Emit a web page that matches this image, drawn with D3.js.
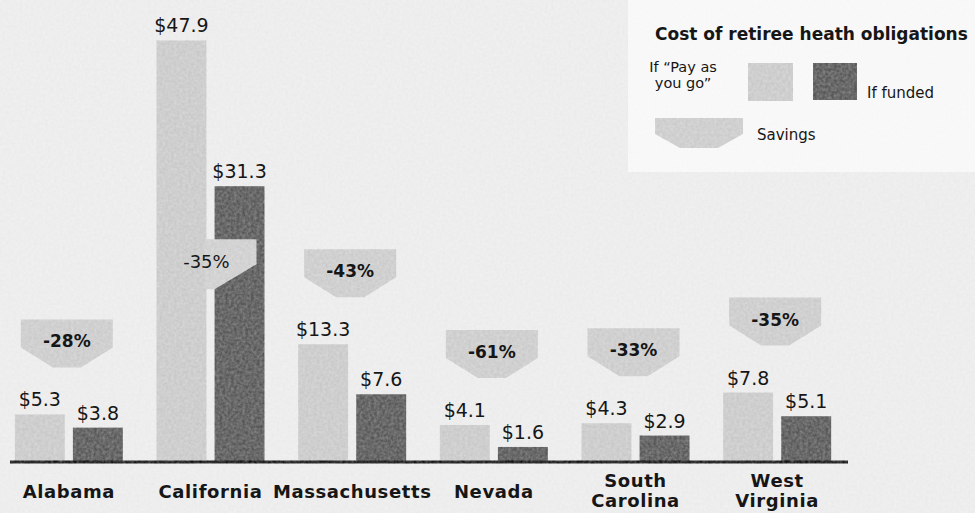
<!DOCTYPE html>
<html>
<head>
<meta charset="utf-8">
<script src="https://cdn.jsdelivr.net/npm/d3@7"></script>
<style>
  body { margin: 0; background: #ececec; }
  svg { display: block; }
  text { font-family: "DejaVu Sans", sans-serif; fill: #161616; }
</style>
</head>
<body>
<div id="chart"></div>
<script>
const width = 975;
const height = 513;

const states = ["Alabama", "California", "Massachusetts", "Nevada", "South Carolina", "West Virginia"];
const stateLines = [["Alabama"], ["California"], ["Massachusetts"], ["Nevada"], ["South", "Carolina"], ["West", "Virginia"]];
const payAsYouGo = [5.3, 47.9, 13.3, 4.1, 4.3, 7.8];
const funded = [3.8, 31.3, 7.6, 1.6, 2.9, 5.1];
const savings = ["-28%", "-35%", "-43%", "-61%", "-33%", "-35%"];
const savingsInBar = ["California"];

const colors = { payg: "#c8c8c8", funded: "#555555", savings: "#cacaca" };

const svg = d3.select("#chart").append("svg")
  .attr("width", width)
  .attr("height", height);

// paper grain
const grain = svg.append("defs").append("filter").attr("id", "grain")
  .attr("x", 0).attr("y", 0).attr("width", 1).attr("height", 1);
grain.append("feTurbulence")
  .attr("type", "fractalNoise")
  .attr("baseFrequency", 0.35)
  .attr("numOctaves", 2)
  .attr("seed", 4);
grain.append("feColorMatrix")
  .attr("type", "matrix")
  .attr("values", "0 0 0 0 1  0 0 0 0 1  0 0 0 0 1  0 0 0 -1.4 1.1");

svg.append("rect")
  .attr("width", width).attr("height", height)
  .attr("fill", "#ebebeb");

const x = d3.scaleBand()
  .domain(states)
  .range([-2, 848]);

const y = d3.scaleLinear()
  .domain([0, 50])
  .range([461, 22]);

const rows = states.map((s, i) => ({
  state: s,
  lines: stateLines[i],
  payg: payAsYouGo[i],
  funded: funded[i],
  savings: savings[i],
  inBar: savingsInBar.includes(s)
}));

const groupW = 108;
const inner = d3.scaleBand()
  .domain(["payg", "funded"])
  .range([0, groupW])
  .paddingInner(0.14);

const lightR = inner("payg") + inner.bandwidth();
const darkL = inner("funded");
const darkR = inner("funded") + inner.bandwidth();
const shift = d => `translate(${x(d.state) + x.bandwidth() / 2 - groupW / 2},0)`;

// ---- marks layer
const marks = svg.append("g");

const group = marks.selectAll("g.state")
  .data(rows)
  .enter().append("g")
  .attr("class", "state")
  .attr("transform", shift);

group.append("rect")
  .attr("x", inner("payg"))
  .attr("y", d => y(d.payg))
  .attr("width", inner.bandwidth())
  .attr("height", d => y(0) - y(d.payg))
  .attr("fill", colors.payg);

group.append("rect")
  .attr("x", inner("funded"))
  .attr("y", d => y(d.funded))
  .attr("width", inner.bandwidth())
  .attr("height", d => y(0) - y(d.funded))
  .attr("fill", colors.funded);

function downArrow(x0, x1, t) {
  const cx = (x0 + x1) / 2;
  return `M${x0},${t}H${x1}V${t + 28}L${cx + 14},${t + 48}H${cx - 14}L${x0},${t + 28}Z`;
}

group.filter(d => !d.inBar).append("path")
  .attr("d", d => downArrow(6, groupW - 10, y(d.payg) - 95))
  .attr("fill", colors.savings);

// savings band cutting through the funded bar
group.filter(d => d.inBar).append("path")
  .attr("d", d => {
    const t = y(d.funded) + 53;
    return `M${lightR - 2},${t}H${darkR - 8}V${t + 25}L${darkL},${t + 50}H${lightR - 2}Z`;
  })
  .attr("fill", "#cdcdcd");

marks.append("line")
  .attr("x1", 10).attr("x2", 848)
  .attr("y1", y(0) + 1).attr("y2", y(0) + 1)
  .attr("stroke", "#111")
  .attr("stroke-width", 3);

// legend box and swatches
marks.append("rect")
  .attr("x", 628).attr("y", -2)
  .attr("width", 350).attr("height", 174)
  .attr("fill", "#f7f7f7");

marks.append("rect")
  .attr("x", 748).attr("y", 63)
  .attr("width", 45).attr("height", 38)
  .attr("fill", colors.payg);

marks.append("rect")
  .attr("x", 813).attr("y", 63)
  .attr("width", 44).attr("height", 37)
  .attr("fill", colors.funded);

marks.append("path")
  .attr("d", "M655,118H743V134L718,148H680L655,134Z")
  .attr("fill", colors.savings);

// grain overlay (under the text)
svg.append("rect")
  .attr("width", width).attr("height", height)
  .attr("filter", "url(#grain)")
  .attr("opacity", 0.3);

// ---- text layer
const labels = svg.append("g");

const tg = labels.selectAll("g.state")
  .data(rows)
  .enter().append("g")
  .attr("class", "state")
  .attr("transform", shift);

tg.append("text")
  .attr("x", inner("payg") + inner.bandwidth() / 2)
  .attr("y", d => y(d.payg) - 8)
  .attr("text-anchor", "middle")
  .attr("font-size", 19)
  .text(d => `$${d.payg}`);

tg.append("text")
  .attr("x", inner("funded") + inner.bandwidth() / 2)
  .attr("y", d => y(d.funded) - 8)
  .attr("text-anchor", "middle")
  .attr("font-size", 19)
  .text(d => `$${d.funded}`);

tg.filter(d => !d.inBar).append("text")
  .attr("x", (groupW - 4) / 2)
  .attr("y", d => y(d.payg) - 95 + 28)
  .attr("text-anchor", "middle")
  .attr("font-size", 17)
  .attr("font-weight", "bold")
  .text(d => d.savings);

tg.filter(d => d.inBar).append("text")
  .attr("x", lightR)
  .attr("y", d => y(d.funded) + 53 + 29)
  .attr("text-anchor", "middle")
  .attr("font-size", 18)
  .text(d => d.savings);

const cat = tg.append("text")
  .attr("text-anchor", "middle")
  .attr("font-size", 18)
  .attr("font-weight", "bold")
  .attr("letter-spacing", 0.6);

cat.selectAll("tspan")
  .data(d => d.lines.map((l, i) => ({ l, i, n: d.lines.length })))
  .enter().append("tspan")
  .attr("x", groupW / 2)
  .attr("y", d => d.n === 1 ? 498 : 487 + d.i * 20)
  .text(d => d.l);

// legend text
labels.append("text")
  .attr("x", 655).attr("y", 40)
  .attr("font-size", 17)
  .attr("font-weight", "bold")
  .text("Cost of retiree heath obligations");

labels.append("text")
  .attr("font-size", 14.5)
  .attr("text-anchor", "middle")
  .selectAll("tspan")
  .data(["If \u201cPay as", "you go\u201d"])
  .enter().append("tspan")
  .attr("x", 683)
  .attr("y", (d, i) => 72 + i * 16)
  .text(d => d);

labels.append("text")
  .attr("x", 867).attr("y", 98)
  .attr("font-size", 15)
  .text("If funded");

labels.append("text")
  .attr("x", 757).attr("y", 140)
  .attr("font-size", 15)
  .text("Savings");
</script>
</body>
</html>
